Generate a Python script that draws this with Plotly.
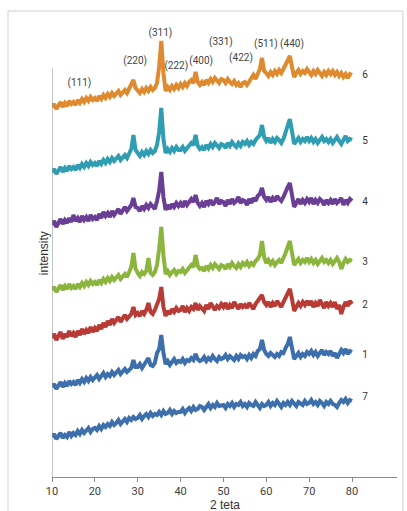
import plotly.graph_objects as go

# 2-theta grid (degrees), step 0.5 from 10 to 80
x_deg = [v / 2 for v in range(20, 161)]

# intensities (arbitrary units, already vertically offset as in the figure)
s7 = [40,43,38,41,44,39,42,40,45,41,
      44,42,46,43,47,44,46,49,45,48,
      49,47,51,48,52,50,53,51,55,52,
      54,57,53,56,58,55,59,57,60,58,
      59,62,58,61,63,60,64,61,63,62,
      65,62,66,63,64,67,63,66,64,65,
      65,68,64,67,69,66,70,67,68,71,
      70,67,71,73,69,72,70,74,71,72,
      72,69,73,71,74,70,73,72,75,71,
      73,70,74,72,71,75,72,69,73,71,
      72,75,71,74,72,76,73,70,74,72,
      75,72,76,73,71,75,74,72,76,73,
      74,77,73,75,72,76,74,71,75,73,
      76,73,72,70,74,77,75,78,74,77,
      76]
s1 = [90,93,88,92,95,90,94,91,96,93,
      95,92,97,94,98,95,99,96,100,97,
      99,102,98,101,104,100,103,101,105,102,
      104,107,103,106,108,105,107,109,117,110,
      110,113,109,112,115,119,112,111,114,124,
      128,142,124,113,116,112,115,118,114,116,
      115,118,114,117,116,119,117,123,118,116,
      117,120,116,119,117,121,118,116,120,118,
      119,122,118,121,119,117,121,118,122,120,
      121,118,122,119,123,121,126,128,137,127,
      123,121,124,122,120,123,121,125,124,129,
      133,140,128,118,121,124,120,123,121,125,
      123,126,122,125,121,124,127,122,125,123,
      126,121,124,119,123,127,124,128,123,126,
      125]
s2 = [139,143,137,141,145,138,143,140,146,141,
      144,140,146,142,148,143,147,144,150,145,
      149,146,152,148,154,150,156,152,158,154,
      157,160,155,159,162,158,161,163,170,162,
      164,161,166,163,167,174,165,163,167,172,
      178,190,170,161,166,163,168,165,169,166,
      167,171,165,169,166,170,168,174,167,171,
      169,166,172,168,174,170,167,171,169,173,
      170,174,168,172,169,175,171,168,173,170,
      172,169,174,171,168,173,176,178,182,175,
      172,175,170,174,171,176,173,170,175,180,
      184,188,178,166,170,174,171,175,172,176,
      172,176,170,174,171,177,173,169,175,171,
      174,170,175,168,172,163,170,175,171,176,
      173]
s3 = [187,190,185,189,192,187,191,188,193,189,
      191,188,193,190,194,191,195,192,196,193,
      195,192,197,194,198,195,199,196,200,197,
      199,202,198,201,203,200,204,210,224,208,
      204,201,205,203,206,219,204,202,205,212,
      228,250,222,203,206,202,205,207,203,206,
      205,208,204,207,209,212,210,222,211,208,
      209,206,211,208,212,209,213,210,208,212,
      211,208,213,210,214,211,209,213,210,214,
      212,215,211,214,212,216,218,222,236,220,
      214,217,213,216,212,215,217,214,218,224,
      230,236,224,212,215,218,214,217,215,219,
      215,218,214,217,213,216,219,215,217,214,
      217,213,216,219,215,208,214,218,215,217,
      216]
s4 = [252,256,250,255,258,253,257,254,259,255,
      262,256,259,255,261,257,260,256,262,258,
      260,257,263,259,265,261,264,260,266,262,
      265,268,263,267,270,266,269,272,279,270,
      269,266,271,268,272,269,273,270,268,276,
      286,305,280,267,272,268,273,270,274,271,
      274,270,276,272,275,278,275,282,274,271,
      274,270,276,273,277,272,275,279,273,276,
      275,271,277,273,278,274,276,280,274,277,
      276,272,278,274,279,276,281,283,289,280,
      277,280,275,279,276,281,278,276,280,286,
      290,294,284,270,274,278,273,277,274,278,
      275,279,273,277,274,278,276,272,277,274,
      277,273,278,274,276,279,272,277,274,278,
      276]
s5 = [305,308,303,307,310,305,309,306,311,308,
      310,307,312,309,313,310,314,311,315,312,
      314,311,316,313,317,314,318,315,319,316,
      318,321,317,320,322,319,323,328,342,327,
      324,321,325,322,326,323,327,324,326,332,
      345,369,338,324,328,325,329,326,330,327,
      327,330,326,329,331,334,332,342,331,328,
      330,327,332,329,333,330,334,331,329,333,
      332,329,334,331,335,332,330,334,331,335,
      333,336,332,335,333,337,339,342,352,340,
      336,339,334,338,335,339,337,334,338,345,
      351,358,346,333,336,339,335,338,336,340,
      336,339,335,338,334,337,340,336,338,335,
      338,334,337,340,336,333,337,341,336,338,
      337]
s6 = [370,373,368,372,375,370,374,371,376,373,
      375,372,377,374,378,375,379,376,380,377,
      379,376,381,378,382,379,383,380,384,381,
      383,386,382,385,387,384,388,391,397,389,
      387,384,388,385,389,386,390,387,389,394,
      410,436,404,386,390,387,391,388,392,389,
      393,390,394,391,395,397,394,405,395,392,
      395,392,397,394,398,395,399,396,394,398,
      397,394,398,395,393,396,392,394,390,394,
      395,392,396,399,402,398,403,408,419,406,
      404,401,405,402,406,403,407,404,408,412,
      416,421,410,400,404,407,403,406,404,408,
      405,402,406,403,407,404,401,405,402,406,
      403,406,402,405,401,404,400,403,399,403,
      402]

series_names = ["7", "1", "2", "3", "4", "5", "6"]
series_values = [s7, s1, s2, s3, s4, s5, s6]
series_colors = ["#3d6fad", "#3d6fad", "#b93b36", "#8bb53d", "#6b3e95", "#2f9db2", "#e08a2f"]
label_y = [80, 122, 172, 215, 275, 336, 402]

# Miller index annotations
hkl_labels = ["(111)", "(220)", "(311)", "(222)", "(400)", "(331)", "(422)", "(511)", "(440)"]
hkl_x = [16.4, 29.4, 35.3, 39.0, 44.8, 49.4, 54.1, 59.9, 66.0]
hkl_y = [394, 416, 444, 411, 416, 435, 419, 433, 433]

x_ticks = [10, 20, 30, 40, 50, 60, 70, 80]

fig = go.Figure()
for name, vals, col in zip(series_names, series_values, series_colors):
    fig.add_trace(go.Scatter(x=x_deg, y=vals, mode="lines", name=name,
                             line=dict(color=col, width=4), showlegend=False))

# series labels at right end
fig.add_trace(go.Scatter(x=[82.4] * len(series_names), y=label_y, mode="text",
                         text=series_names, textposition="middle right",
                         textfont=dict(size=10, color="#333333", family="Liberation Sans Narrow, Roboto, sans-serif"),
                         showlegend=False, cliponaxis=False))

fig.add_trace(go.Scatter(x=hkl_x, y=hkl_y, mode="text", text=hkl_labels,
                         textposition="middle center",
                         textfont=dict(size=10, color="#444444", family="Liberation Sans Narrow, Roboto, sans-serif"),
                         showlegend=False, cliponaxis=False))

# y axis line (only up to top of axis)
fig.add_shape(type="line", xref="x", yref="y", x0=10, x1=10, y0=0, y1=409,
              line=dict(color="#8c8c8c", width=1))
# outer frame
fig.add_shape(type="rect", xref="paper", yref="paper", x0=-0.1275, x1=1.017, y0=-0.12, y1=1.0425,
              line=dict(color="#d0d0d0", width=1), layer="below")

fig.add_annotation(text="intensity", xref="paper", yref="paper", x=-0.049, y=0.501,
                   textangle=-90, showarrow=False,
                   font=dict(size=12, color="#333333", family="Liberation Sans, Arial, sans-serif"))

fig.add_annotation(text="2 teta", xref="paper", yref="paper", x=0.5, y=-0.063,
                   showarrow=False, yanchor="middle",
                   font=dict(size=12, color="#333333", family="Liberation Sans, Arial, sans-serif"))

fig.update_layout(
    width=407, height=511,
    margin=dict(l=52, r=10, t=30, b=34, autoexpand=False),
    paper_bgcolor="white", plot_bgcolor="white",
    font=dict(family="Liberation Sans Narrow, Roboto, sans-serif"),
    xaxis=dict(range=[10, 90.5], tickvals=x_ticks, ticks="outside", ticklen=4,
               tickcolor="#8c8c8c", showline=True, linecolor="#8c8c8c", linewidth=1,
               showgrid=False, zeroline=False, automargin=False,
               tickfont=dict(size=11, color="#404040")),
    yaxis=dict(range=[0, 447], showticklabels=False, showgrid=False, zeroline=False,
               showline=False, ticks="", automargin=False),
)

fig.write_html("out.html", config={"displayModeBar": False})

# remove the default page margin so the figure sits at the window origin
with open("out.html", "r", encoding="utf-8") as f:
    html = f.read()
html = html.replace("<head>", "<head><style>html,body{margin:0;padding:0;overflow:hidden;}</style>", 1)
with open("out.html", "w", encoding="utf-8") as f:
    f.write(html)
